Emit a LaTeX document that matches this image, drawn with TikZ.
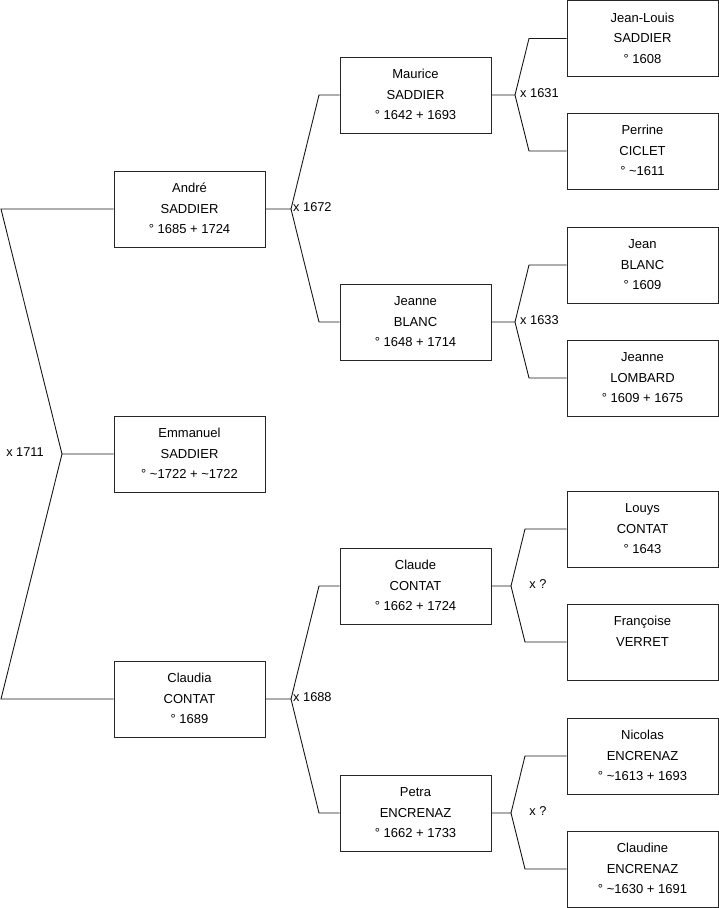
\documentclass[tikz,border=0pt]{standalone}
\usepackage{fontspec}
\setmainfont{Liberation Sans}
\newcommand\ppl[3]{\raisebox{2.5pt}{\begin{tabular}{@{}c@{}}#1\\#2\\#3\end{tabular}}}
\begin{document}
\begin{tikzpicture}[x=1pt,y=-1pt,
  person/.style={draw=black!85, line width=1pt, minimum width=151pt, minimum height=76pt,
    inner sep=0pt, align=center, font=\fontsize{13}{20.5}\selectfont},
  link/.style={draw=black!90, line width=0.9pt},
  marr/.style={font=\fontsize{12.8}{14}\selectfont, inner sep=0pt}]
\useasboundingbox (0,0) rectangle (719,908);
% column 1
\node[person] (andre) at (189.5,209) {\ppl{André}{SADDIER}{° 1685 + 1724}};
\node[person] (emma) at (189.5,454) {\ppl{Emmanuel}{SADDIER}{° \textasciitilde1722 + \textasciitilde1722}};
\node[person] (claudia) at (189.5,699) {\ppl{Claudia}{CONTAT}{° 1689}};
% column 2
\node[person] (maurice) at (415.5,95) {\ppl{Maurice}{SADDIER}{° 1642 + 1693}};
\node[person] (jeanneb) at (415.5,322) {\ppl{Jeanne}{BLANC}{° 1648 + 1714}};
\node[person] (claude) at (415.5,586) {\ppl{Claude}{CONTAT}{° 1662 + 1724}};
\node[person] (petra) at (415.5,813) {\ppl{Petra}{ENCRENAZ}{° 1662 + 1733}};
% column 3
\node[person] (jeanlouis) at (642.5,38.5) {\ppl{Jean-Louis}{SADDIER}{° 1608}};
\node[person] (perrine) at (642.5,151) {\ppl{Perrine}{CICLET}{° \textasciitilde1611}};
\node[person] (jean) at (642.5,265) {\ppl{Jean}{BLANC}{° 1609}};
\node[person] (jeannel) at (642.5,378) {\ppl{Jeanne}{LOMBARD}{° 1609 + 1675}};
\node[person] (louys) at (642.5,529) {\ppl{Louys}{CONTAT}{° 1643}};
\node[person] (francoise) at (642.5,642) {\ppl{Françoise}{VERRET}{\strut}};
\node[person] (nicolas) at (642.5,756) {\ppl{Nicolas}{ENCRENAZ}{° \textasciitilde1613 + 1693}};
\node[person] (claudine) at (642.5,869) {\ppl{Claudine}{ENCRENAZ}{° \textasciitilde1630 + 1691}};
% junction coordinates
\coordinate (j0) at (62,454);
\coordinate (t0) at (1,209);
\coordinate (b0) at (1,699);
\coordinate (j1) at (291,209);
\coordinate (t1) at (319,95);
\coordinate (b1) at (319,322);
\coordinate (j2) at (291,699);
\coordinate (t2) at (319,586);
\coordinate (b2) at (319,813);
\coordinate (j3) at (515,95);
\coordinate (t3) at (529,38.5);
\coordinate (b3) at (529,151);
\coordinate (j4) at (515,322);
\coordinate (t4) at (529,265);
\coordinate (b4) at (529,378);
\coordinate (j5) at (511,586);
\coordinate (t5) at (525,529);
\coordinate (b5) at (525,642);
\coordinate (j6) at (511,813);
\coordinate (t6) at (525,756);
\coordinate (b6) at (525,869);
% connectors
\draw[link] (andre.west) -- (t0) -- (j0) -- (emma.west);
\draw[link] (claudia.west) -- (b0) -- (j0);
\draw[link] (andre.east) -- (j1) -- (t1) -- (maurice.west);
\draw[link] (j1) -- (b1) -- (jeanneb.west);
\draw[link] (claudia.east) -- (j2) -- (t2) -- (claude.west);
\draw[link] (j2) -- (b2) -- (petra.west);
\draw[link] (maurice.east) -- (j3) -- (t3) -- (jeanlouis.west);
\draw[link] (j3) -- (b3) -- (perrine.west);
\draw[link] (jeanneb.east) -- (j4) -- (t4) -- (jean.west);
\draw[link] (j4) -- (b4) -- (jeannel.west);
\draw[link] (claude.east) -- (j5) -- (t5) -- (louys.west);
\draw[link] (j5) -- (b5) -- (francoise.west);
\draw[link] (petra.east) -- (j6) -- (t6) -- (nicolas.west);
\draw[link] (j6) -- (b6) -- (claudine.west);
% marriage labels
\node[marr] (m0) at (25,452) {x 1711};
\node[marr, anchor=west] (m1) at (293,207) {x 1672};
\node[marr, anchor=west] (m2) at (293,697) {x 1688};
\node[marr, anchor=west] (m3) at (520,93) {x 1631};
\node[marr, anchor=west] (m4) at (520,320) {x 1633};
\node[marr] (m5) at (538,584) {x ?};
\node[marr] (m6) at (538,811) {x ?};
\end{tikzpicture}
\end{document}
